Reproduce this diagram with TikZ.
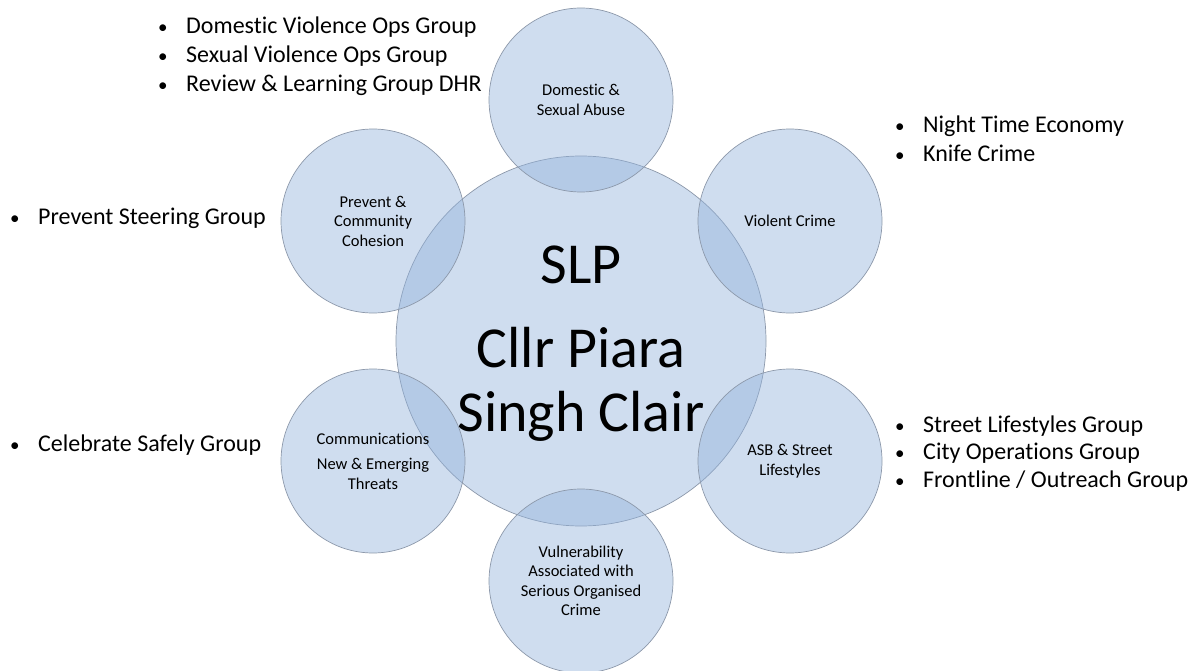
\documentclass[tikz,border=0pt]{standalone}
\usepackage{fontspec}
\setmainfont{Carlito}[Ligatures={NoCommon,NoRare}]
\definecolor{ringblue}{RGB}{146,178,219}
\definecolor{ringline}{RGB}{140,152,170}
\newcommand{\blt}{\makebox[30pt][l]{\hspace{2pt}\fontsize{19}{19}\selectfont\textbullet}}
\begin{document}
\begin{tikzpicture}[x=1pt, y=-1pt,
    ring/.style={circle, draw=ringline, line width=0.7pt, fill=ringblue, fill opacity=0.44,
      text opacity=1, inner sep=0pt, minimum size=184pt, align=center,
      font=\fontsize{16.5}{19.5}\selectfont},
    hub/.style={ring, minimum size=370pt, font=\fontsize{58}{64}\selectfont},
    item/.style={anchor=base west, inner sep=0pt, font=\fontsize{24}{29}\selectfont}]
  \useasboundingbox (0,0) rectangle (1201,671);

  % centre and the six themes
  \node[hub] (slp) at (581,341) {};
  \node[align=center, font=\fontsize{58}{64}\selectfont] (slptext) at ([yshift=-3pt]slp.center) {SLP\\[20pt]Cllr Piara\\Singh Clair};
  \node[ring] (dsa) at (581,100) {Domestic \&\\Sexual Abuse};
  \node[ring] (vc) at (790,221) {Violent Crime};
  \node[ring] (asb) at (790,461) {ASB \& Street\\Lifestyles};
  \node[ring] (vsoc) at (581,581) {Vulnerability\\Associated with\\Serious Organised\\Crime};
  \node[ring] (comms) at (373,461) {Communications\\[6pt]New \& Emerging\\Threats};
  \node[ring] (prev) at (373,221) {Prevent \&\\Community\\Cohesion};

  % groups
  \foreach \t [count=\i from 0] in {Domestic Violence Ops Group, Sexual Violence Ops Group, Review \& Learning Group DHR}
    \node[item] (dv\i) at (156,34+29*\i) {\blt\t};
  \foreach \t [count=\i from 0] in {Night Time Economy, Knife Crime}
    \node[item] (nte\i) at (893,133+29*\i) {\blt\t};
  \foreach \t [count=\i from 0] in {Street Lifestyles Group, City Operations Group, Frontline / Outreach Group}
    \node[item] (sl\i) at (893,432+27.5*\i) {\blt\t};
  \node[item] (psg) at (8,224) {\blt Prevent Steering Group};
  \node[item] (csg) at (8,451) {\blt Celebrate Safely Group};
\end{tikzpicture}
\end{document}
